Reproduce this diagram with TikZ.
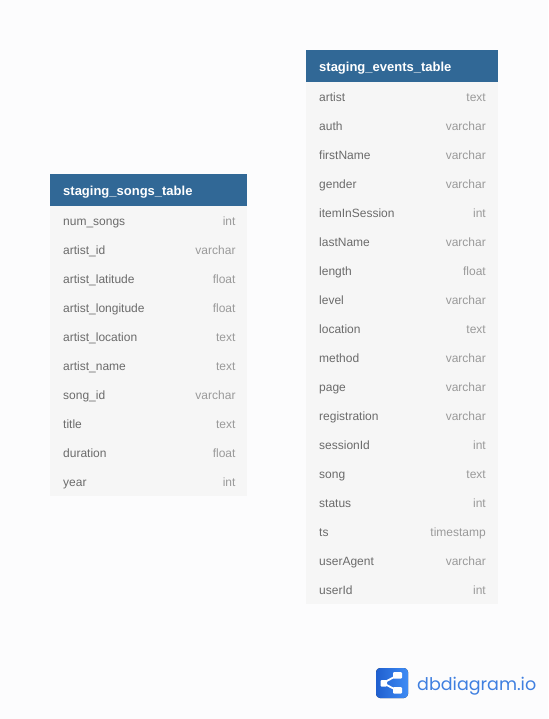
\documentclass[tikz,border=0pt]{standalone}
\usepackage{fontspec}
\setmainfont{Liberation Sans}
\newfontfamily\logofont{Poppins}
\usetikzlibrary{shadings}
\definecolor{bgc}{HTML}{FCFCFD}
\definecolor{headc}{HTML}{316896}
\definecolor{bodyc}{HTML}{F6F6F6}
\definecolor{namec}{HTML}{6B6B6B}
\definecolor{typec}{HTML}{9A9A9A}
\definecolor{logoa}{HTML}{1F5FCF}
\definecolor{logob}{HTML}{3F8CF5}
\definecolor{logot}{HTML}{3F7FE0}
\tikzset{
  headbox/.style={fill=headc,draw=none,inner sep=0pt,anchor=north west},
  bodybox/.style={fill=bodyc,draw=none,inner sep=0pt,anchor=north west},
  headtext/.style={text=white,font=\fontsize{13}{15}\selectfont\bfseries,anchor=base west,inner sep=0pt},
  namet/.style={text=namec,font=\fontsize{12}{14}\selectfont,anchor=base west,inner sep=0pt},
  typet/.style={text=typec,font=\fontsize{12}{14}\selectfont,anchor=base east,inner sep=0pt},
}
\begin{document}
\begin{tikzpicture}[x=1pt,y=-1pt]
\useasboundingbox (0,0) rectangle (548,719);
\fill[bgc] (0,0) rectangle (548,719);
% songs table
\node[bodybox,minimum width=197pt,minimum height=322pt] (songs) at (50,174) {};
\node[headbox,minimum width=197pt,minimum height=32pt] (songshead) at (50,174) {};
\node[headtext] (songstitle) at (63,195.5) {staging\_songs\_table};
\foreach \n/\t [count=\i from 0] in {num\_songs/int,artist\_id/varchar,artist\_latitude/float,artist\_longitude/float,artist\_location/text,artist\_name/text,song\_id/varchar,title/text,duration/float,year/int}{
  \node[namet] (sn\i) at (63,225.3+29*\i) {\n};
  \node[typet] (st\i) at (235.7,225.3+29*\i) {\t};
}
% events table
\node[bodybox,minimum width=192pt,minimum height=554pt] (events) at (306,50) {};
\node[headbox,minimum width=192pt,minimum height=32pt] (eventshead) at (306,50) {};
\node[headtext] (eventstitle) at (319,71.5) {staging\_events\_table};
\foreach \n/\t [count=\i from 0] in {artist/text,auth/varchar,firstName/varchar,gender/varchar,itemInSession/int,lastName/varchar,length/float,level/varchar,location/text,method/varchar,page/varchar,registration/varchar,sessionId/int,song/text,status/int,ts/timestamp,userAgent/varchar,userId/int}{
  \node[namet] (en\i) at (319,101.3+29*\i) {\n};
  \node[typet] (et\i) at (486,101.3+29*\i) {\t};
}
% logo
\fill[left color=logoa,right color=logob,rounded corners=4pt] (376,668) rectangle (408,698);
\draw[white,line width=1.8pt] (383,683) -- (397,675.5) (383,683) -- (397,690.5);
\fill[white,rounded corners=1pt] (380.5,680) rectangle (387,686.5);
\fill[white,rounded corners=1pt] (393,672) rectangle (402,678.5);
\fill[white,rounded corners=1pt] (393,687) rectangle (402,693.5);
\node[text=logot,font=\logofont\fontsize{17.5}{20}\selectfont,anchor=base west,inner sep=0pt] (logo) at (417,690) {dbdiagram.io};
\end{tikzpicture}
\end{document}
